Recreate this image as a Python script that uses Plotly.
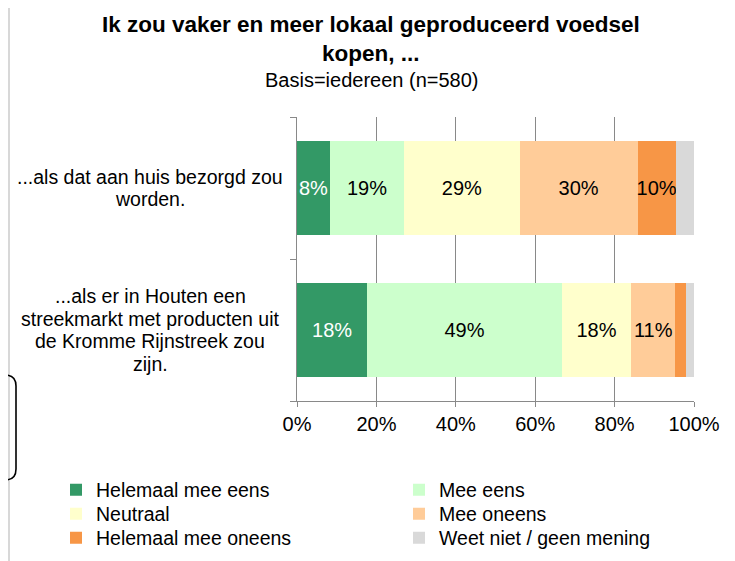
import plotly.graph_objects as go

categories = [
    "...als dat aan huis bezorgd zou<br>worden.",
    "...als er in Houten een<br>streekmarkt met producten uit<br>de Kromme Rijnstreek zou<br>zijn.",
]
series_names = [
    "Helemaal mee eens",
    "Mee eens",
    "Neutraal",
    "Mee oneens",
    "Helemaal mee oneens",
    "Weet niet / geen mening",
]
helemaal_mee_eens = [8.3, 17.7]
mee_eens = [18.7, 49.0]
neutraal = [29.1, 17.5]
mee_oneens = [29.7, 11.1]
helemaal_mee_oneens = [9.6, 2.8]
weet_niet = [4.6, 2.1]
x_ticks = [0, 20, 40, 60, 80, 100]
x_tick_labels = ["0%", "20%", "40%", "60%", "80%", "100%"]
title = "Ik zou vaker en meer lokaal geproduceerd voedsel<br>kopen, ..."
subtitle = "Basis=iedereen (n=580)"

series_values = [helemaal_mee_eens, mee_eens, neutraal, mee_oneens,
                 helemaal_mee_oneens, weet_niet]
colors = ["#339966", "#CCFFCC", "#FFFFCC", "#FFCC99", "#F79646", "#D9D9D9"]
text_colors = ["white", "black", "black", "black", "black", "black"]

FONT = "Liberation Sans, Arial, sans-serif"
OFF = 8                      # page body margin
W, H = 735 - OFF, 561 - OFF  # figure size
L, R, T, B = 297, 694, 117, 401  # plot area in reference (viewport) pixels


def fx(px):
    return (px - L) / (R - L)


def fy(py):
    return (B - py) / (B - T)


legend_ids = ["legend", "legend", "legend2", "legend2", "legend3", "legend3"]

fig = go.Figure()
for name, vals, col, tcol, lg in zip(series_names, series_values, colors,
                                     text_colors, legend_ids):
    fig.add_trace(go.Bar(
        y=list(range(len(categories))),
        x=vals,
        name=name,
        legend=lg,
        orientation="h",
        marker=dict(color=col, line=dict(width=0)),
        text=[f"{round(v)}%" if v >= 5 else "" for v in vals],
        textposition="inside",
        insidetextanchor="middle",
        textangle=0,
        constraintext="none",
        textfont=dict(family=FONT, size=20, color=tcol),
        hoverinfo="skip",
    ))

# category labels (centered, multi-line, tight line spacing)
LINE = 22.6
for i, cat in enumerate(categories):
    lines = cat.split("<br>")
    n = len(lines)
    for k, line in enumerate(lines):
        fig.add_annotation(
            x=fx(150), xref="paper", y=i, yref="y",
            yshift=((n - 1) / 2 - k) * LINE,
            text=line, showarrow=False, align="center",
            xanchor="center", yanchor="middle",
            font=dict(family=FONT, size=19.5, color="black"),
        )

# title + subtitle
fig.add_annotation(
    x=fx(371), xref="paper", y=fy(39), yref="paper",
    text=f"<b>{title}</b>",
    showarrow=False, align="center", xanchor="center", yanchor="middle",
    font=dict(family=FONT, size=22.5, color="black"),
)
fig.add_annotation(
    x=fx(371), xref="paper", y=fy(79.5), yref="paper",
    text=subtitle,
    showarrow=False, align="center", xanchor="center", yanchor="middle",
    font=dict(family=FONT, size=20, color="black"),
)

shapes = [
    # outer chart border
    dict(type="path", xref="paper", yref="paper",
         path=f"M {fx(9)},{fy(570)} L {fx(9)},{fy(7.5)} L {fx(731.5)},{fy(7.5)} L {fx(731.5)},{fy(570)}",
         line=dict(color="#BFBFBF", width=1.2)),
]
# rounded callout box at the left edge (partially cut off)
x0, x1, y0, y1, r = -10, 16, 375, 480, 11
path = (f"M {fx(x0)},{fy(y0)} L {fx(x1 - r)},{fy(y0)} "
        f"Q {fx(x1)},{fy(y0)} {fx(x1)},{fy(y0 + r)} "
        f"L {fx(x1)},{fy(y1 - r)} "
        f"Q {fx(x1)},{fy(y1)} {fx(x1 - r)},{fy(y1)} "
        f"L {fx(x0)},{fy(y1)}")
shapes.append(dict(type="path", xref="paper", yref="paper", path=path,
                   line=dict(color="black", width=1.6)))

legend_common = dict(
    orientation="h",
    x=fx(56), xanchor="left",
    yanchor="middle",
    entrywidth=298, entrywidthmode="pixels",
    traceorder="normal",
    font=dict(family=FONT, size=19.5, color="black"),
    itemwidth=30,
    bgcolor="rgba(0,0,0,0)",
    borderwidth=0,
)

fig.update_layout(
    width=W, height=H,
    margin=dict(l=L - OFF, r=W - (R - OFF), t=T - OFF, b=H - (B - OFF),
                pad=0, autoexpand=False),
    barmode="stack",
    bargap=0.34,
    plot_bgcolor="white",
    paper_bgcolor="white",
    font=dict(family=FONT, size=19.5, color="black"),
    shapes=shapes,
    showlegend=True,
    legend=dict(legend_common, y=fy(490)),
    legend2=dict(legend_common, y=fy(514)),
    legend3=dict(legend_common, y=fy(538)),
)
fig.update_xaxes(
    range=[0, 100],
    tickvals=x_ticks, ticktext=x_tick_labels,
    showgrid=True, gridcolor="#898989", gridwidth=1.3,
    showline=True, linecolor="#898989", linewidth=1.3,
    ticks="outside", ticklen=5, tickcolor="#898989", tickwidth=1.3,
    zeroline=False,
    tickfont=dict(family=FONT, size=20, color="black"),
    fixedrange=True,
)
fig.update_yaxes(
    type="category",
    tickvals=list(range(len(categories))),
    range=[len(categories) - 0.5, -0.5],
    showticklabels=False,
    showgrid=False,
    showline=True, linecolor="#898989", linewidth=1.3,
    ticks="outside", ticklen=6, tickcolor="#898989", tickwidth=1.3,
    tickson="boundaries",
    zeroline=False,
    fixedrange=True,
)

fig.write_html("out.html")
